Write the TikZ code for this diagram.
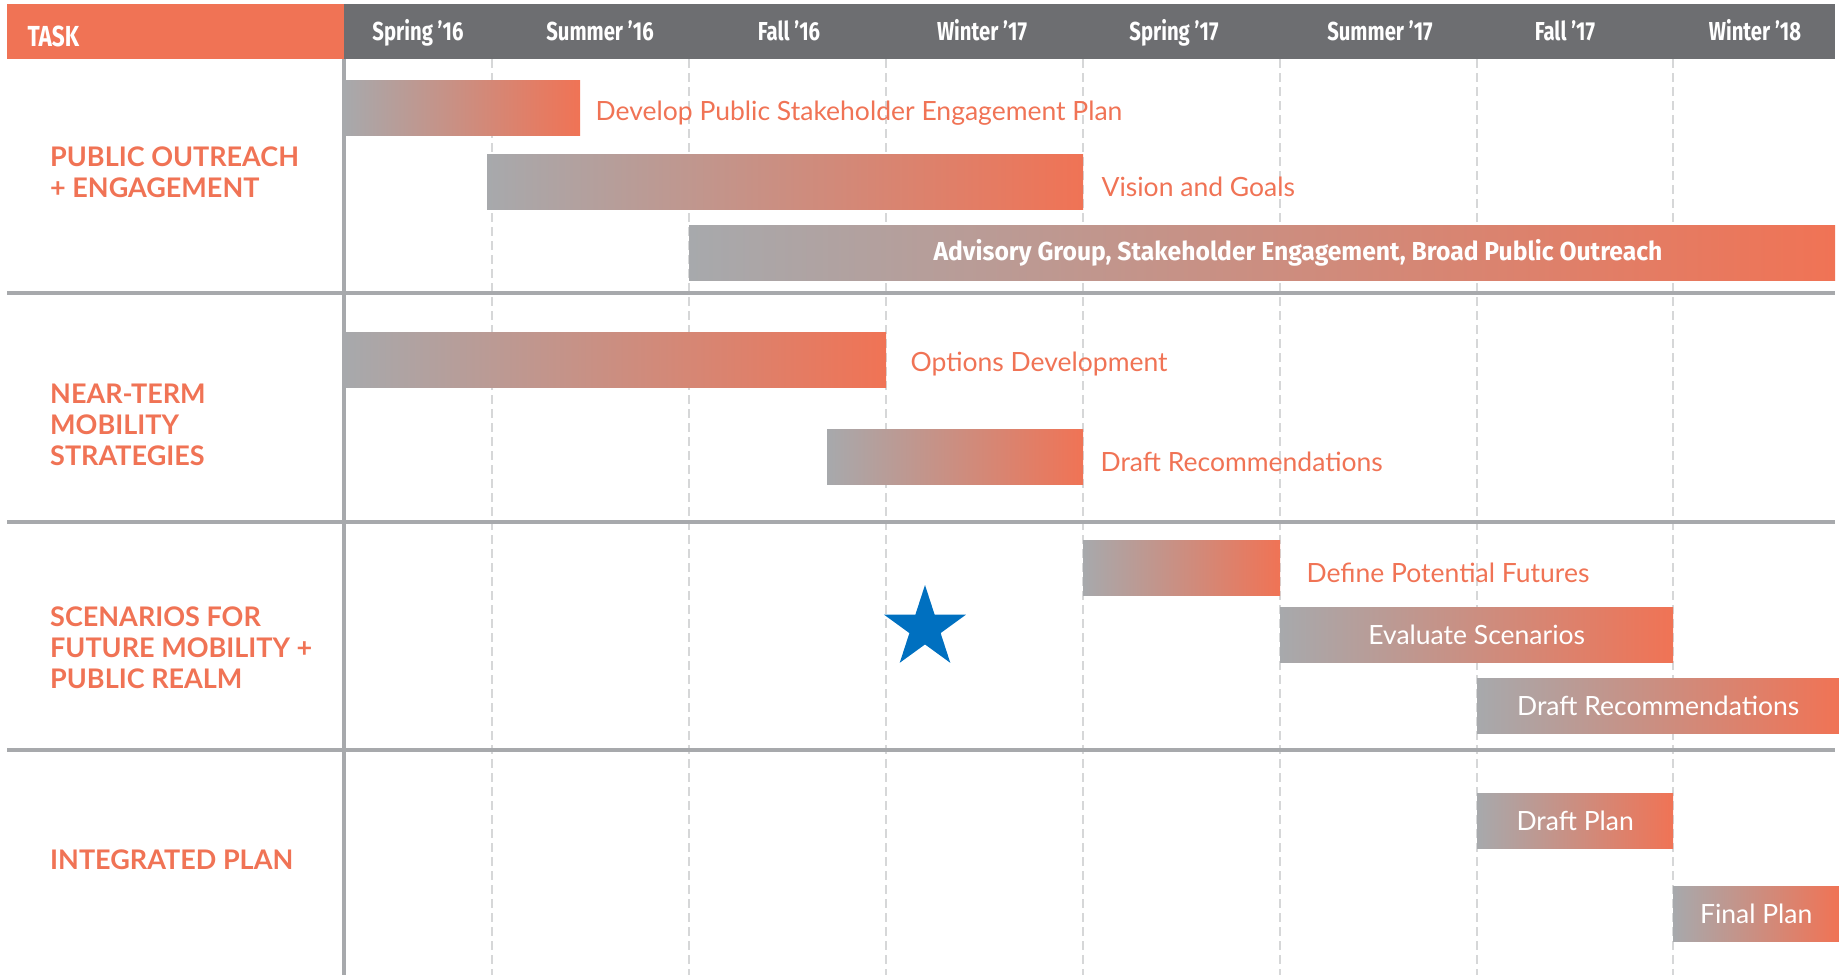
\documentclass[tikz,border=0pt]{standalone}
\usepackage{fontspec}
\setmainfont{Lato}
\newfontfamily\condfont[FakeStretch=0.78]{Fira Sans}
\newfontfamily\widefont[FakeStretch=0.95]{Fira Sans}
\usetikzlibrary{positioning, shapes.geometric}

\definecolor{taskorange}{HTML}{F07355}
\definecolor{headgray}{HTML}{6D6E71}
\definecolor{bargray}{HTML}{A7A9AC}
\definecolor{rulegray}{HTML}{A7A9AC}
\definecolor{gridgray}{HTML}{D6D7D8}
\definecolor{starblue}{HTML}{0070C0}

\begin{document}
\begin{tikzpicture}[x=1pt, y=-1pt]
    % Define styles
    \tikzstyle{bar} = [rectangle, left color=bargray, right color=taskorange, minimum height=55pt, inner sep=0pt, anchor=west, text=white, font=\fontsize{26.5}{30}\selectfont]
    \tikzstyle{barlabel} = [text=taskorange, font=\fontsize{26.5}{30}\selectfont, inner sep=0pt, yshift=-5pt]
    \tikzstyle{season} = [text=white, font=\condfont\bfseries\fontsize{26}{30}\selectfont, anchor=base]
    \tikzstyle{tasklabel} = [text=taskorange, font=\bfseries\fontsize{27}{31}\selectfont, align=left, anchor=west, inner sep=0pt]
    \tikzstyle{grid} = [gridgray, line width=1.5pt, dash pattern=on 9pt off 5pt]
    \tikzstyle{rule} = [rulegray, line width=3.5pt]

    \useasboundingbox (0,0) rectangle (1839,975);

    % Header row
    \fill[taskorange] (7,4) rectangle (344,59);
    \fill[headgray] (344,4) rectangle (1835,59);
    \node[season, anchor=base west, font=\condfont\bfseries\fontsize{29}{30}\selectfont] (task) at (24,46) {TASK};
    \foreach \label/\x [count=\i] in {Spring ’16/418, Summer ’16/600, Fall ’16/789, Winter ’17/982, Spring ’17/1174, Summer ’17/1380, Fall ’17/1565, Winter ’18/1755}
        \node[season] (season\i) at (\x,40) {\label};

    % Grid and row rules
    \foreach \x in {492, 689, 886, 1083, 1280, 1477, 1673}
        \draw[grid] (\x,59) -- (\x,975);
    \draw[rule] (344,59) -- (344,975);
    \foreach \y in {293, 522, 750}
        \draw[rule] (7,\y) -- (1835,\y);

    % Task names
    \node[tasklabel] (outreach) at (50,172) {PUBLIC OUTREACH\\+ ENGAGEMENT};
    \node[tasklabel] (nearterm) at (50,425) {NEAR-TERM\\MOBILITY\\STRATEGIES};
    \node[tasklabel] (scenarios) at (50,648) {SCENARIOS FOR\\FUTURE MOBILITY +\\PUBLIC REALM};
    \node[tasklabel] (integrated) at (50,860) {INTEGRATED PLAN};

    % Public outreach + engagement
    \node[bar, minimum width=236pt] (engagement_plan) at (344,108) {};
    \node[barlabel, right=15pt of engagement_plan] (engagement_plan_label) {Develop Public Stakeholder Engagement Plan};
    \node[bar, minimum width=596pt] (vision) at (487,181.5) {};
    \node[barlabel, right=18pt of vision] (vision_label) {Vision and Goals};
    \node[bar, minimum width=1146pt] (advisory) at (689,253) {};
    \node[text=white, font=\widefont\bfseries\fontsize{26}{30}\selectfont] (advisory_label) at (1298,253) {Advisory Group, Stakeholder Engagement, Broad Public Outreach};

    % Near-term mobility strategies
    \node[bar, minimum width=542pt] (options) at (344,359.5) {};
    \node[barlabel, right=24pt of options] (options_label) {Options Development};
    \node[bar, minimum width=256pt] (near_recs) at (827,457) {};
    \node[barlabel, right=17pt of near_recs] (near_recs_label) {Draft Recommendations};

    % Scenarios for future mobility + public realm
    \node[bar, minimum width=197pt] (futures) at (1083,568) {};
    \node[barlabel, right=26pt of futures] (futures_label) {Define Potential Futures};
    \node[bar, minimum width=393pt] (evaluate) at (1280,635) {Evaluate Scenarios};
    \node[bar, minimum width=362pt] (scenario_recs) at (1477,705.5) {Draft Recommendations};

    % Integrated plan
    \node[bar, minimum width=196pt] (draft_plan) at (1477,820.5) {Draft Plan};
    \node[bar, minimum width=166pt] (final_plan) at (1673,914) {Final Plan};

    % Milestone
    \node[star, star points=5, star point ratio=2.618, minimum size=86pt, inner sep=0pt, fill=starblue] (milestone) at (925,628) {};
\end{tikzpicture}
\end{document}
